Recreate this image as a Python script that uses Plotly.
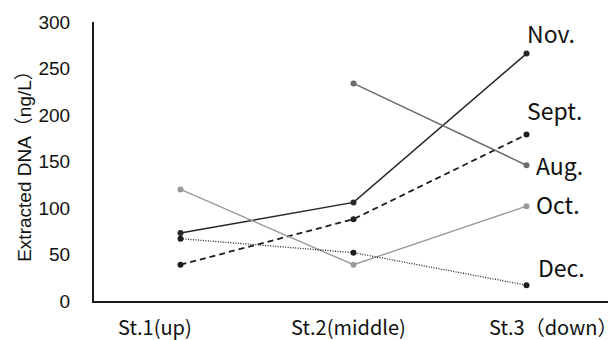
import plotly.graph_objects as go

stations = ["St.1(up)", "St.2(middle)", "St.3（down）"]
months = ["Nov.", "Sept.", "Aug.", "Oct.", "Dec."]
nov = [73, 106, 266]
sept = [39, 88, 179]
aug = [None, 234, 146]
octo = [120, 39, 102]
dec = [67, 52, 17]
y_ticks = [0, 50, 100, 150, 200, 250, 300]

series = [nov, sept, aug, octo, dec]
colors = ["#262626", "#1e1e1e", "#6b6b6b", "#9a9a9a", "#1e1e1e"]
dashes = ["solid", "6px,4px", "solid", "solid", "1px,1.5px"]
widths = [1.5, 1.8, 1.5, 1.4, 1.3]

cjk = "Noto Sans CJK JP, Noto Sans, sans-serif"
arial = "Liberation Sans, Arial, Noto Sans CJK JP, sans-serif"

xpos = [0, 1, 2]
fig = go.Figure()
for name, vals, c, d, w in zip(months, series, colors, dashes, widths):
    fig.add_trace(go.Scatter(
        x=xpos, y=vals, mode="lines+markers", name=name,
        line=dict(color=c, width=w, dash=d),
        marker=dict(color=c, size=6),
        connectgaps=False, showlegend=False,
    ))

# month labels at right end
label_y = [288, 205, 146, 104, 37]
label_shift = [0, 0, 9, 9, 11]
for name, ly, xs in zip(months, label_y, label_shift):
    fig.add_annotation(x=2, y=ly, xref="x", yref="y", text=name, showarrow=False,
                       xanchor="left", yanchor="middle", xshift=xs - 2,
                       font=dict(family=cjk, size=23, color="#111111"))

# station labels under axis
st_x = [-0.145, 0.97, 2.155]
for s, sx in zip(stations, st_x):
    fig.add_annotation(x=sx, y=0, xref="x", yref="paper", text=s, showarrow=False,
                       xanchor="center", yanchor="middle", yshift=-25,
                       font=dict(family=cjk, size=20, color="#111111"))

# page body has an 8px default margin, so the figure is sized to fit the window
fig.update_layout(
    width=608, height=332,
    margin=dict(l=86, r=3, t=14, b=39),
    paper_bgcolor="white", plot_bgcolor="white",
    xaxis=dict(range=[-0.5, 2.5], showticklabels=False, showgrid=False, zeroline=False,
               showline=True, linecolor="#1a1a1a", linewidth=2, ticks=""),
    yaxis=dict(range=[0, 300], tickvals=y_ticks, showgrid=False, zeroline=False,
               showline=True, linecolor="#1a1a1a", linewidth=2, ticks="",
               ticklabelstandoff=18,
               tickfont=dict(family=arial, size=19, color="#111111"),
               title=dict(text="Extracted DNA（ng/L）", standoff=2,
                          font=dict(family=arial, size=19, color="#111111"))),
)

fig.write_html("out.html")
